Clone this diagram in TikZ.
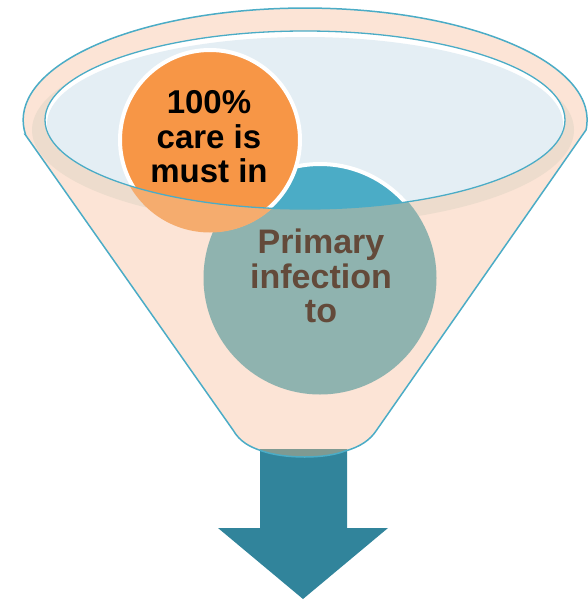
\documentclass[tikz,border=0pt]{standalone}
\usepackage{fontspec}
\setmainfont{Liberation Sans}
\definecolor{beige}{HTML}{FCE4D6}
\definecolor{shadowc}{HTML}{EDDCCD}
\definecolor{lightblue}{HTML}{E4EEF4}
\definecolor{tealline}{HTML}{4BACC6}
\definecolor{tealfill}{HTML}{4BACC6}
\definecolor{teallow}{HTML}{8FB3AF}
\definecolor{orangefill}{HTML}{F79646}
\definecolor{orangelow}{HTML}{F5AC6E}
\definecolor{arrowc}{HTML}{31849B}
\definecolor{arrowlow}{HTML}{7F9A92}
\definecolor{browntext}{HTML}{634A3A}
\begin{document}
\begin{tikzpicture}[x=1pt,y=-1pt,
  bubble/.style={circle, draw=white, line width=4pt, inner sep=0pt},
  bigtext/.style={font=\bfseries\fontsize{33}{34.5}\selectfont, align=center, inner sep=0pt},
  bigtextb/.style={font=\bfseries\fontsize{34}{34.5}\selectfont, align=center, inner sep=0pt}]
\useasboundingbox (0,0) rectangle (587,600);
\def\funnelpath{(25.5,135) -- (233,430) .. controls (240,442) and (250,447) .. (262,451) .. controls (285,459) and (325,459) .. (345,451) .. controls (360,447) and (370,440) .. (376,431) -- (586,130) arc[start angle=5.1, end angle=-187.7, x radius=282, y radius=112] -- cycle}
% funnel body
\fill[beige] \funnelpath;
% shadow under the rim
\fill[shadowc] (303,130) ellipse[x radius=271, y radius=95];
% inner rim
\fill[white] (305,120) ellipse[x radius=260, y radius=89];
\begin{scope}
  \clip (305,120) ellipse[x radius=260, y radius=89];
  \fill[lightblue] (305,124) ellipse[x radius=258, y radius=87];
\end{scope}
% arrow
\fill[arrowc] (260,449) -- (347,449) -- (347,528) -- (388,528) -- (303,599) -- (218,528) -- (260,528) -- cycle;
\begin{scope}
  \clip \funnelpath;
  \fill[arrowlow] (260,449) rectangle (347,470);
\end{scope}
% teal bubble
\node[bubble, fill=tealfill, minimum size=228pt] (prim) at (320,278) {};
\begin{scope}
  \clip (prim.center) circle[radius=116.5];
  \fill[teallow, even odd rule] (0,0) rectangle (587,600) (305,120) ellipse[x radius=260, y radius=89];
\end{scope}
% orange bubble
\node[bubble, fill=orangefill, minimum size=180pt] (care) at (210,140) {};
\begin{scope}
  \clip (care.center) circle[radius=92.5];
  \fill[orangelow, even odd rule] (0,0) rectangle (587,600) (305,120) ellipse[x radius=260, y radius=89];
\end{scope}
% outlines
\draw[tealline, line width=1.3pt] (305,120) ellipse[x radius=260, y radius=89];
\draw[tealline, line width=1.5pt] \funnelpath;
% texts
\node[bigtext, text=black] (caretext) at (209,137) {100\%\\care is\\must in};
\node[bigtextb, text=browntext] (primtext) at (321,276) {Primary\\infection\\to};
\end{tikzpicture}
\end{document}
